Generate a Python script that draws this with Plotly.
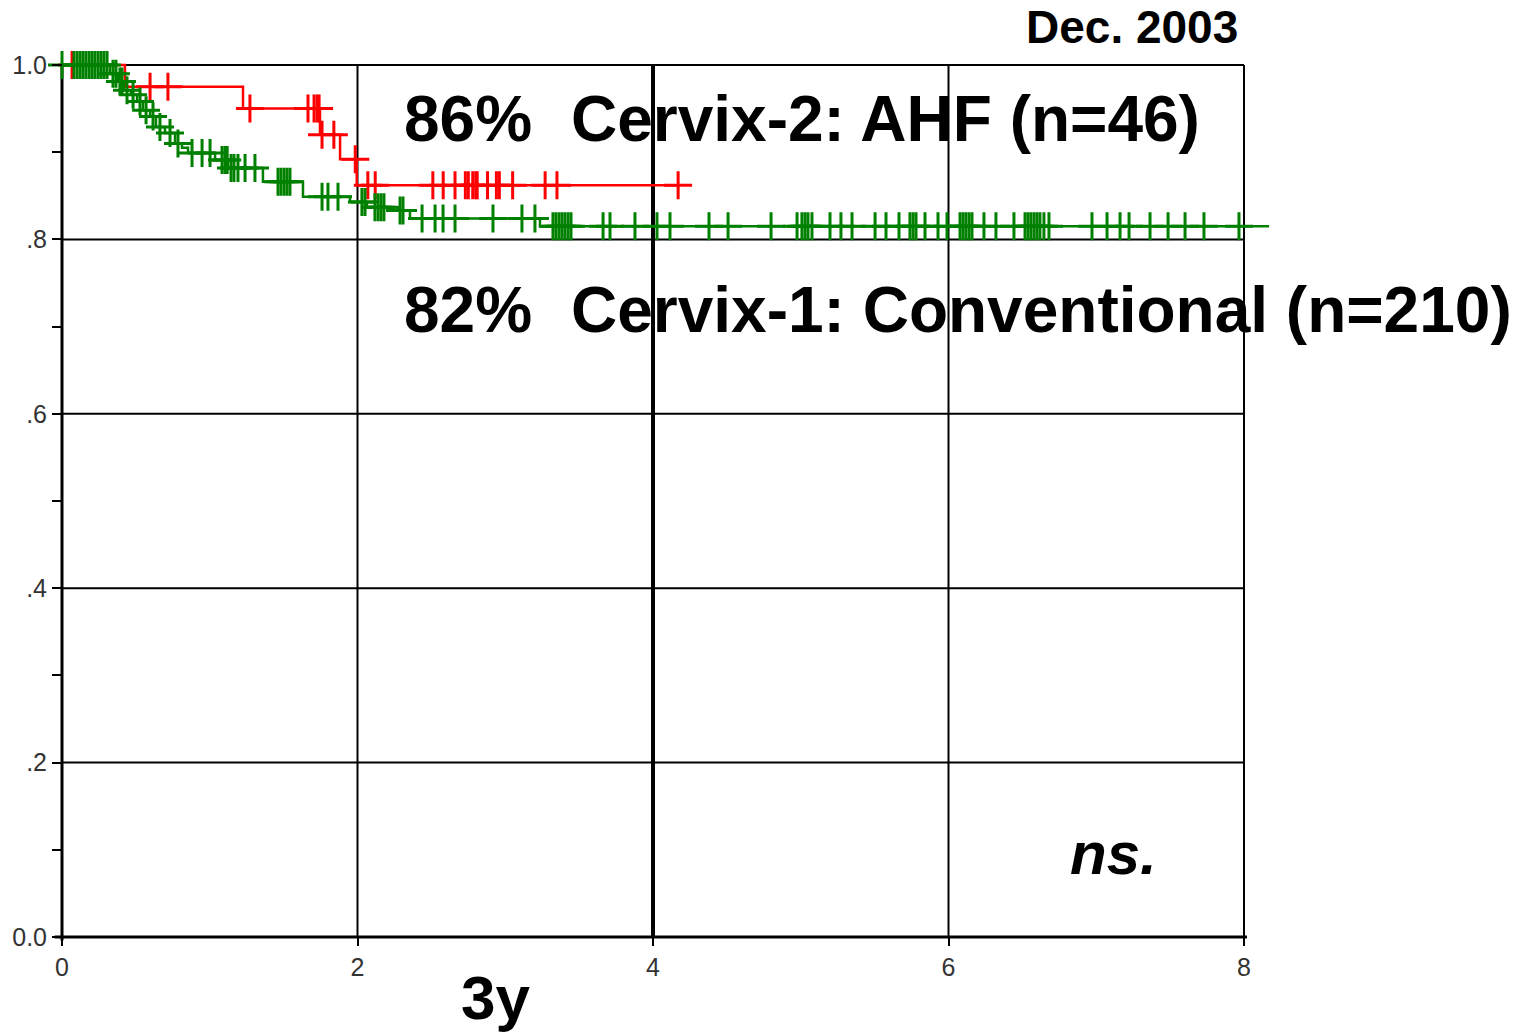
import numpy as np
import plotly.graph_objects as go

# ---------------- data (time in years, survival fraction) ----------------
x_tick_values = [0, 2, 4, 6, 8]
x_tick_labels = ["0", "2", "4", "6", "8"]
y_tick_values = [0.0, 0.2, 0.4, 0.6, 0.8, 1.0]
y_tick_labels = ["0.0", ".2", ".4", ".6", ".8", "1.0"]
y_minor_values = [0.1, 0.3, 0.5, 0.7, 0.9]

# Cervix-2: AHF (n=46)
red_event_times = [0.426, 1.225, 1.746, 1.882, 1.995]
red_survival = [0.975, 0.950, 0.920, 0.892, 0.862]
red_censor_times = [0.068, 0.596, 0.717, 1.272, 1.665, 1.706, 1.726, 1.740,
                    1.760, 1.840, 1.985, 2.07, 2.12, 2.51, 2.58, 2.66, 2.73,
                    2.75, 2.78, 2.80, 2.81, 2.88, 2.94, 2.96, 3.05, 3.27,
                    3.35, 4.17]
red_last_time = 4.17

# Cervix-1: Conventional (n=210)
green_event_times = [0.325, 0.379, 0.420, 0.467, 0.508, 0.548, 0.596, 0.636,
                     0.697, 0.765, 0.812, 0.853, 1.036, 1.124, 1.360, 1.631,
                     1.949, 2.064, 2.274, 2.355, 3.235]
green_survival = [0.990, 0.981, 0.971, 0.966, 0.958, 0.948, 0.941, 0.929,
                  0.922, 0.910, 0.905, 0.899, 0.891, 0.882, 0.866, 0.849,
                  0.843, 0.837, 0.833, 0.824, 0.815]
green_censor_times = [0.00, 0.081, 0.102, 0.122, 0.142, 0.162, 0.183, 0.203,
                      0.223, 0.244, 0.264, 0.284, 0.305,
                      0.345, 0.365, 0.392, 0.406, 0.440, 0.481, 0.528, 0.569,
                      0.616, 0.663, 0.731, 0.785,
                      0.880, 0.948, 1.002, 1.083, 1.103, 1.118, 1.144, 1.164,
                      1.191, 1.239, 1.306,
                      1.462, 1.482, 1.503, 1.523, 1.543,
                      1.760, 1.800, 1.868,
                      2.030, 2.051, 2.118, 2.139, 2.159, 2.179, 2.288, 2.308,
                      2.437, 2.525, 2.579, 2.660, 2.917, 3.113, 3.201,
                      3.323, 3.343, 3.364, 3.384, 3.404, 3.425, 3.445,
                      3.662, 3.709, 3.878, 4.027, 4.115,
                      4.379, 4.508, 4.799, 4.975, 5.008, 5.029, 5.049, 5.076,
                      5.198, 5.272, 5.347, 5.503, 5.577, 5.665, 5.739, 5.760,
                      5.780, 5.841, 5.929, 5.990,
                      6.078, 6.098, 6.118, 6.139, 6.159, 6.240, 6.321, 6.443,
                      6.518, 6.538, 6.558, 6.579, 6.599, 6.619, 6.646, 6.680,
                      6.971, 7.073, 7.161, 7.222, 7.364, 7.486, 7.601, 7.729,
                      7.966]
green_last_time = 8.17

RED = "#ff0000"
GREEN = "#008000"

# ---------------- layout geometry ----------------
W, H = 1528, 1032
X0PX, X8PX = 62, 1244      # pixel of x=0 and x=8
Y1PX, Y0PX = 65, 937       # pixel of y=1 and y=0
ML, MR, MT, MB = 30, 238, 30, 82
sx = (X8PX - X0PX) / 8.0
sy = (Y0PX - Y1PX) / 1.0
plot_left, plot_right = ML, W - MR
plot_top, plot_bottom = MT, H - MB
x_min = (plot_left - X0PX) / sx
x_max = (plot_right - X0PX) / sx
y_max = 1 + (Y1PX - plot_top) / sy
y_min = -(plot_bottom - Y0PX) / sy


def pxx(px):
    return (px - plot_left) / (plot_right - plot_left)


def pxy(py):
    return (plot_bottom - py) / (plot_bottom - plot_top)


def step_xy(events, surv, last):
    xs = [0.0] + list(events) + [last]
    ys = [1.0] + list(surv) + [surv[-1]]
    return xs, ys


def censor_levels(events, surv, censors):
    ev = np.array(events)
    sv = np.array([1.0] + list(surv))
    idx = np.searchsorted(ev, np.array(censors), side="right")
    return sv[idx]


fig = go.Figure()

for events, surv, censors, last, color in [
    (red_event_times, red_survival, red_censor_times, red_last_time, RED),
    (green_event_times, green_survival, green_censor_times, green_last_time, GREEN),
]:
    xs, ys = step_xy(events, surv, last)
    fig.add_trace(go.Scatter(x=xs, y=ys, mode="lines",
                             line=dict(color=color, width=2.5, shape="hv"),
                             showlegend=False, hoverinfo="skip"))
    fig.add_trace(go.Scatter(x=censors, y=censor_levels(events, surv, censors),
                             mode="markers", cliponaxis=False,
                             marker=dict(symbol="cross-thin", size=20, color=color,
                                         line=dict(color=color, width=3)),
                             showlegend=False, hoverinfo="skip"))

shapes = []
for yv in [0.2, 0.4, 0.6, 0.8, 1.0]:
    shapes.append(dict(type="line", xref="x", yref="y", x0=0, x1=8, y0=yv, y1=yv,
                       line=dict(color="black", width=2), layer="below"))
for xv, wd in [(2, 2), (6, 2), (8, 2), (4, 4)]:
    shapes.append(dict(type="line", xref="x", yref="y", x0=xv, x1=xv, y0=0, y1=1.0,
                       line=dict(color="black", width=wd), layer="below"))
shapes.append(dict(type="line", xref="x", yref="y", x0=-0.05, x1=8.02, y0=0, y1=0,
                   line=dict(color="black", width=3), layer="below"))
shapes.append(dict(type="line", xref="x", yref="y", x0=0, x1=0, y0=-0.004, y1=1.0,
                   line=dict(color="black", width=3), layer="below"))

FONT = "Liberation Sans, Arial, Helvetica, sans-serif"


def ann(text, px, py, size, xanchor="left", style="normal"):
    return dict(text=text, x=pxx(px), y=pxy(py), xref="paper", yref="paper",
                xanchor=xanchor, yanchor="middle", showarrow=False,
                font=dict(family=FONT, size=size, color="black", weight="bold",
                          style=style))


annotations = [
    ann("Dec. 2003", 1240, 27, 46, xanchor="right"),
    ann("86%", 402, 119, 64),
    ann("Cervix-2: AHF (n=46)", 569, 119, 64),
    ann("82%", 402, 310, 64),
    ann("Cervix-1: Conventional (n=210)", 569, 310, 64),
    ann("ns.", 1068, 853, 60, style="italic"),
    ann("3y", 459, 997, 62),
]

fig.update_layout(
    width=W, height=H,
    margin=dict(l=ML, r=MR, t=MT, b=MB, pad=0),
    paper_bgcolor="white", plot_bgcolor="white",
    shapes=shapes, annotations=annotations,
    xaxis=dict(range=[x_min, x_max], anchor="free",
               position=(0 - y_min) / (y_max - y_min),
               showgrid=False, zeroline=False, showline=False,
               tickmode="array", tickvals=x_tick_values, ticktext=x_tick_labels,
               ticks="outside", ticklen=8, tickwidth=2, tickcolor="black",
               tickfont=dict(family=FONT, size=25, color="#333")),
    yaxis=dict(range=[y_min, y_max], anchor="free",
               position=(0 - x_min) / (x_max - x_min),
               showgrid=False, zeroline=False, showline=False,
               tickmode="array", tickvals=y_tick_values, ticktext=y_tick_labels,
               ticks="outside", ticklen=10, tickwidth=2, tickcolor="black",
               tickfont=dict(family=FONT, size=25, color="#333"),
               minor=dict(tickmode="array", tickvals=y_minor_values,
                          ticks="outside", ticklen=10, tickwidth=2,
                          tickcolor="black", showgrid=False)),
)

fig.write_html("out.html",
               config={"displayModeBar": False},
               post_script="document.body.style.margin='0';document.body.style.overflow='hidden';")
